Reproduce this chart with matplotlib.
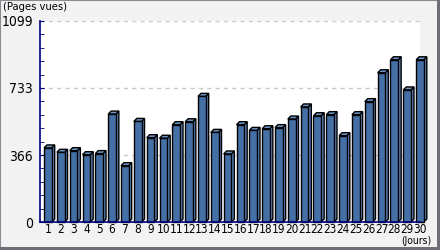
import numpy as np
import matplotlib
matplotlib.use("Agg")
import matplotlib.pyplot as plt
from matplotlib.patches import Polygon, Rectangle

plt.rcParams['font.family'] = ['DejaVu Sans']
plt.rcParams['font.stretch'] = 'condensed'

# data
days = list(range(1, 31))
views = [405, 381, 390, 368, 374, 590, 308, 550, 461, 458,
         532, 548, 687, 490, 372, 532, 501, 510, 516, 563,
         629, 581, 587, 472, 587, 658, 816, 887, 722, 887]
ytick_vals = [0, 366, 733, 1099]
ytick_labels = ["0", "366", "733", "1099"]

W, H = 440, 250
fig = plt.figure(figsize=(W / 100, H / 100), dpi=100)
fig.patch.set_facecolor('#f2f2f2')

# panel border
fig.patches.append(Rectangle((0, 0), 1, 1, transform=fig.transFigure, fill=False,
                             edgecolor='#8a8a92', lw=1.5))
fig.patches.append(Rectangle((437 / W, 0), 3 / W, 1, transform=fig.transFigure,
                             color='#6e6e78', lw=0))
fig.patches.append(Rectangle((0, 0), 1, 3 / H, transform=fig.transFigure,
                             color='#6e6e78', lw=0))

ax_l, ax_r, ax_t, ax_b = 40, 420, 21, 222
ax = fig.add_axes([ax_l / W, (H - ax_b) / H, (ax_r - ax_l) / W, (ax_b - ax_t) / H])
ax.set_facecolor('white')

x0, x1 = 0.385, 29.6
ax.set_xlim(x0, x1)
ax.set_ylim(0, 1099)

# 3d offset in data units (3 px)
dx = 3 * (x1 - x0) / (ax_r - ax_l)
dy = 3 * 1099 / (ax_b - ax_t)
bw = 0.6

front_c = '#4470a6'
side_c = '#5a86bc'
top_c = '#6b94c6'

ax.bar(days, views, width=bw, color=front_c, edgecolor='black', lw=1, zorder=3, clip_on=False)
for d, v in zip(days, views):
    xr = d + bw / 2
    xl = d - bw / 2
    side = Polygon([(xr, 0), (xr, v), (xr + dx, v + dy), (xr + dx, dy)], closed=True,
                   facecolor=side_c, edgecolor='black', lw=1, zorder=2.9, clip_on=False)
    top = Polygon([(xl, v), (xr, v), (xr + dx, v + dy), (xl + dx, v + dy)], closed=True,
                  facecolor=top_c, edgecolor='black', lw=1, zorder=2.9, clip_on=False)
    ax.add_patch(side)
    ax.add_patch(top)

ax.set_yticks(ytick_vals)
ax.set_yticklabels(ytick_labels, fontsize=10)
ax.set_yticks(np.arange(0, 1099.5, 1099 / 15), minor=True)
ax.set_xticks(days)
ax.set_xticklabels([str(d) for d in days], fontsize=8.5)
ax.tick_params(axis='y', which='both', direction='in', length=3, color='#000080', pad=5)
ax.tick_params(axis='x', length=0, pad=0.5)
ax.yaxis.grid(True, which='major', color='#c8c8c8', linestyle=(0, (3, 3)), lw=1, zorder=1)
ax.set_axisbelow(True)

for s in ['top', 'right']:
    ax.spines[s].set_visible(False)
for s in ['left', 'bottom']:
    ax.spines[s].set_color('#000080')
    ax.spines[s].set_linewidth(1.2)
    ax.spines[s].set_zorder(4)

fig.text(3 / W, 1 - 2 / H, "(Pages vues)", ha='left', va='top', fontsize=8)
fig.text(431 / W, 1 - 236 / H, "(Jours)", ha='right', va='top', fontsize=7.5)

fig.savefig("out.png", dpi=100, facecolor=fig.get_facecolor())
